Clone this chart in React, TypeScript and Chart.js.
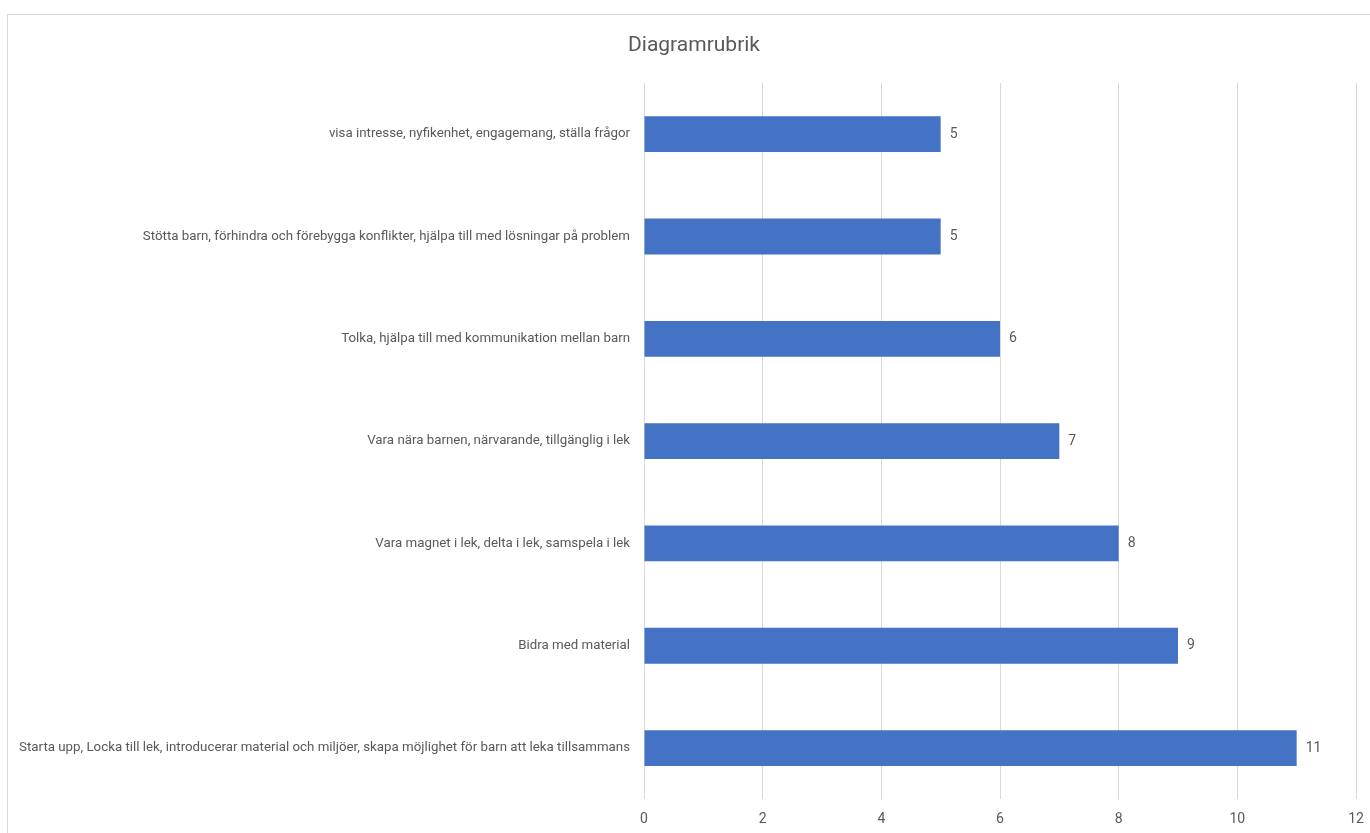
import React, { useEffect, useRef } from "react";
import { Chart, registerables } from "chart.js";

Chart.register(...registerables);

const categories = [
  "visa intresse, nyfikenhet, engagemang, ställa frågor",
  "Stötta barn, förhindra och förebygga konflikter, hjälpa till med lösningar på problem",
  "Tolka, hjälpa till med kommunikation mellan barn",
  "Vara nära barnen, närvarande, tillgänglig i lek",
  "Vara magnet i lek, delta i lek, samspela i lek",
  "Bidra med material",
  "Starta upp, Locka till lek, introducerar material och miljöer, skapa möjlighet för barn att leka tillsammans",
];
const values = [5, 5, 6, 7, 8, 9, 11];
const xTicks = [0, 2, 4, 6, 8, 10, 12];
const title = "Diagramrubrik";

const FONT = "Roboto, 'Noto Sans', sans-serif";
const GRAY = "#595959";

const valueLabels = {
  id: "valueLabels",
  afterDatasetsDraw(chart: any) {
    const ctx = chart.ctx;
    const meta = chart.getDatasetMeta(0);
    ctx.save();
    ctx.font = `14px ${FONT}`;
    ctx.fillStyle = GRAY;
    ctx.textAlign = "left";
    ctx.textBaseline = "middle";
    meta.data.forEach((el: any, i: number) => {
      ctx.fillText(String(values[i]), el.x + 9, el.y);
    });
    ctx.restore();
  },
};

const centeredTitle = {
  id: "centeredTitle",
  afterDraw(chart: any) {
    const ctx = chart.ctx;
    ctx.save();
    ctx.font = `21px ${FONT}`;
    ctx.fillStyle = GRAY;
    ctx.textAlign = "center";
    ctx.textBaseline = "middle";
    ctx.fillText(title, chart.width / 2, 31);
    ctx.restore();
  },
};

export default function App() {
  const ref = useRef<HTMLCanvasElement | null>(null);
  useEffect(() => {
    if (!ref.current) return;
    const chart = new Chart(ref.current, {
      type: "bar",
      data: {
        labels: categories,
        datasets: [
          {
            data: values,
            backgroundColor: "#4472C4",
            borderWidth: 0,
            barPercentage: 0.35,
            categoryPercentage: 1,
          },
        ],
      },
      plugins: [valueLabels, centeredTitle],
      options: {
        indexAxis: "y",
        responsive: false,
        animation: false,
        devicePixelRatio: 1,
        layout: { padding: { left: 0, right: 24, top: 68, bottom: 5 } },
        plugins: {
          legend: { display: false },
          tooltip: { enabled: false },
          title: { display: false },
        },
        scales: {
          x: {
            min: 0,
            max: 12,
            afterBuildTicks(scale: any) {
              scale.ticks = xTicks.map((v) => ({ value: v }));
            },
            grid: { color: "#d9d9d9", drawTicks: false, lineWidth: 1 },
            border: { display: false },
            ticks: {
              color: GRAY,
              padding: 12,
              font: { family: FONT, size: 14 },
            },
          },
          y: {
            grid: { display: false, drawTicks: false },
            border: { display: false },
            afterFit(scale: any) {
              scale.width = 636;
            },
            ticks: {
              color: GRAY,
              padding: 14,
              autoSkip: false,
              font: { family: FONT, size: 13.3 },
            },
          },
        },
      },
    });
    return () => chart.destroy();
  }, []);

  return (
    <div style={{ position: "fixed", inset: 0, overflow: "hidden", background: "#fff" }}>
      <div
        style={{
          position: "absolute",
          left: 7,
          top: 14,
          width: 1372,
          height: 830,
          borderTop: "1px solid #d9d9d9",
          borderLeft: "1px solid #d9d9d9",
        }}
      >
        <canvas ref={ref} width={1372} height={830} style={{ display: "block" }} />
      </div>
    </div>
  );
}
